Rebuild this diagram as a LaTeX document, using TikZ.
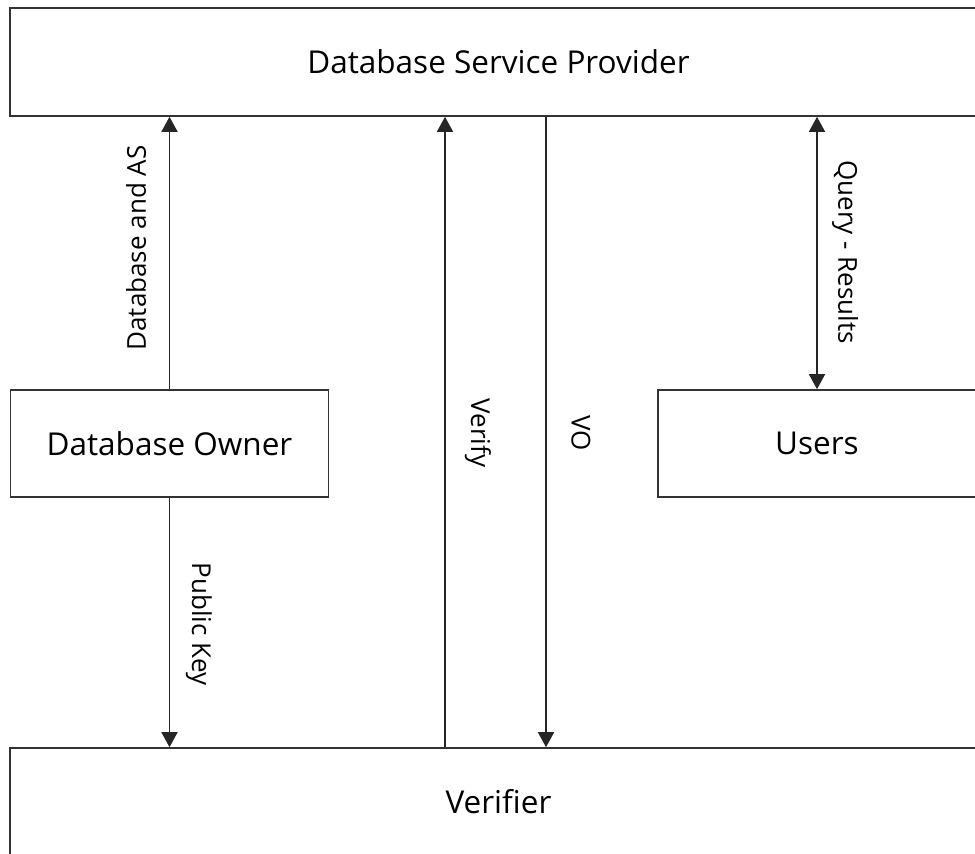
\documentclass[tikz,border=0pt]{standalone}
\usepackage{fontspec}
\setmainfont{Open Sans}
\usetikzlibrary{arrows.meta, positioning}

\begin{document}
\begin{tikzpicture}
        [
          x=1pt, y=-1pt,
          box/.style={draw=black!80, line width=1.6pt, rectangle, inner sep=0pt,
                      font=\fontsize{31.5}{36}\selectfont},
          wide/.style={box, minimum width=977pt, minimum height=108pt},
          party/.style={box, minimum width=318pt, minimum height=107pt},
          link/.style={draw=black!85, line width=1.5pt, -{Triangle[length=15pt, width=16pt]}},
          both/.style={link, {Triangle[length=15pt, width=16pt]}-{Triangle[length=15pt, width=16pt]}},
          tag/.style={font=\fontsize{26}{30}\selectfont, inner sep=0pt}
        ]
        \useasboundingbox (0,0) rectangle (975,854);
        % boxes
        \node [wide] (dsp) at (498.5,62) {Database Service Provider};
        \node [wide] (verifier) at (498.5,802) {Verifier};
        \node [party] (owner) at (169.5,443.5) {Database Owner};
        \node [party] (users) at (817,443.5) {Users};
        % columns of the two long arrows
        \coordinate (vx) at (445,0);
        \coordinate (ox) at (546,0);
        % arrows
        \draw [link] (owner.north) -- (owner.north |- dsp.south);
        \draw [link] (owner.south) -- (owner.south |- verifier.north);
        \draw [link] (verifier.north -| vx) -- (dsp.south -| vx);
        \draw [link] (dsp.south -| ox) -- (verifier.north -| ox);
        \draw [both] (users.north |- dsp.south) -- (users.north);
        % labels
        \node [tag, rotate=90] (dbas) at (136,248) {Database and AS};
        \node [tag, rotate=-90] (pk) at (199,624) {Public Key};
        \node [tag, rotate=-90] (vf) at (478,433) {Verify};
        \node [tag, rotate=-90] (vo) at (581,433) {VO};
        \node [tag, rotate=-90] (qr) at (845,252) {Query - Results};
      \end{tikzpicture}
\end{document}
